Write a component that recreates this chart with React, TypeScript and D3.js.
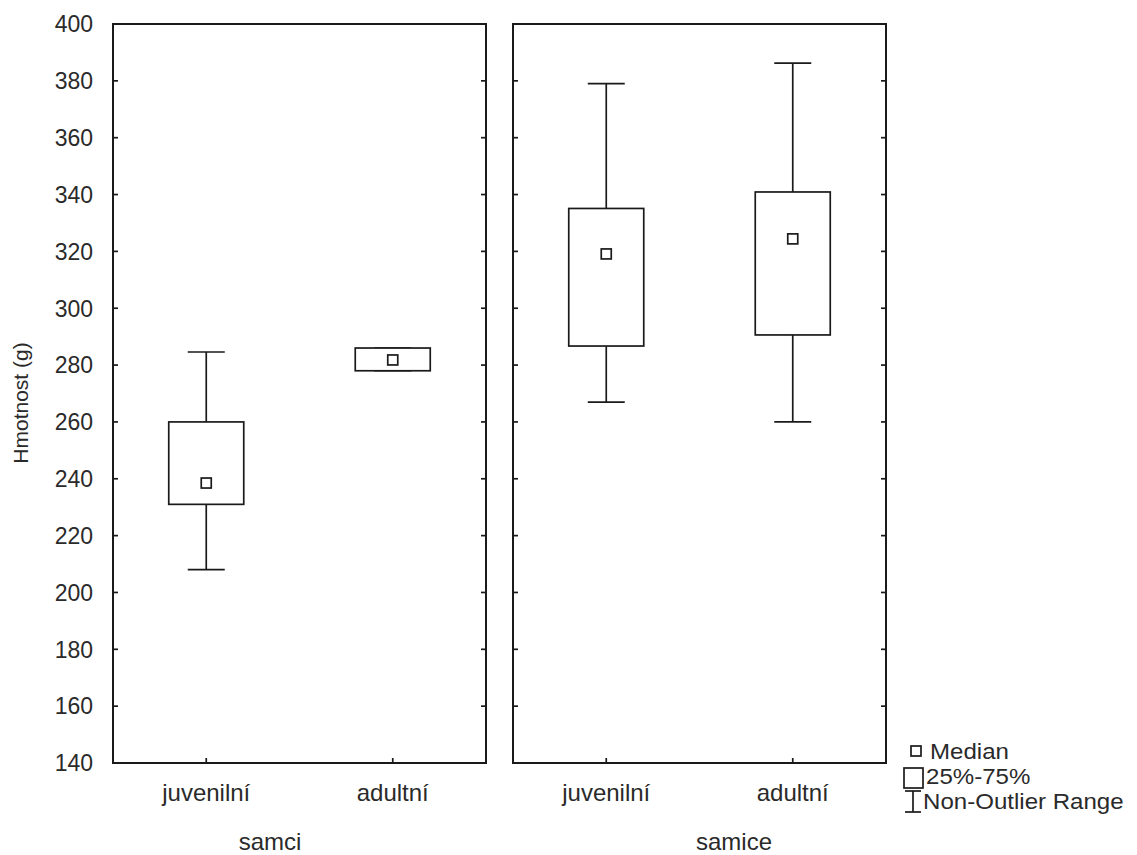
import React from "react";
import * as d3 from "d3";

const groups = ["samci", "samice"];
const categories = ["juvenilní", "adultní"];
// per group, per category
const whiskerLow = [[208, 278], [267, 260]];
const q1 = [[231, 278], [286.7, 290.6]];
const medians = [[238.5, 281.8], [319.1, 324.4]];
const q3 = [[260, 286], [335.1, 340.9]];
const whiskerHigh = [[284.6, 286], [379, 386.2]];
const yTicks = [140, 160, 180, 200, 220, 240, 260, 280, 300, 320, 340, 360, 380, 400];
const legendLabels = ["Median", "25%-75%", "Non-Outlier Range"];
const yLabel = "Hmotnost (g)";

const W = 1137;
const H = 855;
const top = 24;
const bottom = 763;
const panels = [
  { x0: 113, x1: 486, labelX: 270 },
  { x0: 513, x1: 886, labelX: 734 },
];
const font = "'Liberation Sans', Arial, sans-serif";
const ink = "#1a1a1a";
const textInk = "#2a2a2a";

export default function App() {
  const y = d3.scaleLinear().domain([140, 400]).range([bottom, top]);
  const boxW = 75;
  const capW = 37;
  const medS = 10;
  const tickLen = 5;
  const sw = 1.7;

  return (
    <svg
      width={W}
      height={H}
      viewBox={`0 0 ${W} ${H}`}
      style={{ position: "absolute", left: 0, top: 0, background: "#fff", display: "block" }}
    >
      <rect x={0} y={0} width={W} height={H} fill="#fff" />
      {/* Y tick labels */}
      {yTicks.map((t) => (
        <text
          key={t}
          x={93}
          y={y(t)}
          dy="0.36em"
          textAnchor="end"
          fontFamily={font}
          fontSize={23}
          fill={textInk}
        >
          {t}
        </text>
      ))}
      <text
        transform={`translate(28, 403) rotate(-90)`}
        textAnchor="middle"
        fontFamily={font}
        fontSize={21}
        fill={textInk}
      >
        {yLabel}
      </text>
      {groups.map((g, gi) => {
        const p = panels[gi];
        const x = d3.scalePoint<string>().domain(categories).range([p.x0, p.x1]).padding(0.5);
        return (
          <g key={g}>
            <rect
              x={p.x0}
              y={top}
              width={p.x1 - p.x0}
              height={bottom - top}
              fill="none"
              stroke={ink}
              strokeWidth={2}
            />
            {yTicks.map((t) => (
              <g key={t}>
                <line x1={p.x0} x2={p.x0 + tickLen} y1={y(t)} y2={y(t)} stroke={ink} strokeWidth={sw} />
                <line x1={p.x1} x2={p.x1 - tickLen} y1={y(t)} y2={y(t)} stroke={ink} strokeWidth={sw} />
              </g>
            ))}
            {categories.map((c, ci) => {
              const cx = x(c) as number;
              return (
                <g key={c}>
                  <line x1={cx} x2={cx} y1={bottom} y2={bottom - tickLen} stroke={ink} strokeWidth={sw} />
                  <text
                    x={cx}
                    y={801}
                    textAnchor="middle"
                    fontFamily={font}
                    fontSize={24}
                    fill={textInk}
                  >
                    {c}
                  </text>
                  {/* whiskers */}
                  <line x1={cx} x2={cx} y1={y(whiskerHigh[gi][ci])} y2={y(q3[gi][ci])} stroke={ink} strokeWidth={sw} />
                  <line x1={cx} x2={cx} y1={y(q1[gi][ci])} y2={y(whiskerLow[gi][ci])} stroke={ink} strokeWidth={sw} />
                  <line
                    x1={cx - capW / 2}
                    x2={cx + capW / 2}
                    y1={y(whiskerHigh[gi][ci])}
                    y2={y(whiskerHigh[gi][ci])}
                    stroke={ink}
                    strokeWidth={sw}
                  />
                  <line
                    x1={cx - capW / 2}
                    x2={cx + capW / 2}
                    y1={y(whiskerLow[gi][ci])}
                    y2={y(whiskerLow[gi][ci])}
                    stroke={ink}
                    strokeWidth={sw}
                  />
                  <rect
                    x={cx - boxW / 2}
                    y={y(q3[gi][ci])}
                    width={boxW}
                    height={y(q1[gi][ci]) - y(q3[gi][ci])}
                    fill="#fff"
                    stroke={ink}
                    strokeWidth={sw}
                  />
                  <rect
                    x={cx - medS / 2}
                    y={y(medians[gi][ci]) - medS / 2}
                    width={medS}
                    height={medS}
                    fill="#fff"
                    stroke={ink}
                    strokeWidth={sw}
                  />
                </g>
              );
            })}
            <text
              x={p.labelX}
              y={850}
              textAnchor="middle"
              fontFamily={font}
              fontSize={24}
              fill={textInk}
            >
              {g}
            </text>
          </g>
        );
      })}
      {/* Legend */}
      <g>
        <rect x={911} y={746} width={10} height={10} fill="#fff" stroke={ink} strokeWidth={sw} />
        <rect x={904} y={768} width={19} height={20} fill="#fff" stroke={ink} strokeWidth={sw} />
        <line x1={913} x2={913} y1={791} y2={812} stroke={ink} strokeWidth={sw} />
        <line x1={905} x2={921} y1={791} y2={791} stroke={ink} strokeWidth={sw} />
        <line x1={905} x2={921} y1={812} y2={812} stroke={ink} strokeWidth={sw} />
        {legendLabels.map((l, i) => (
          <text
            key={l}
            transform={`translate(${i === 0 ? 930 : i === 1 ? 926 : 923}, ${759 + i * 25}) scale(1.12, 1)`}
            fontFamily={font}
            fontSize={21.5}
            fill={textInk}
          >
            {l}
          </text>
        ))}
      </g>
    </svg>
  );
}
